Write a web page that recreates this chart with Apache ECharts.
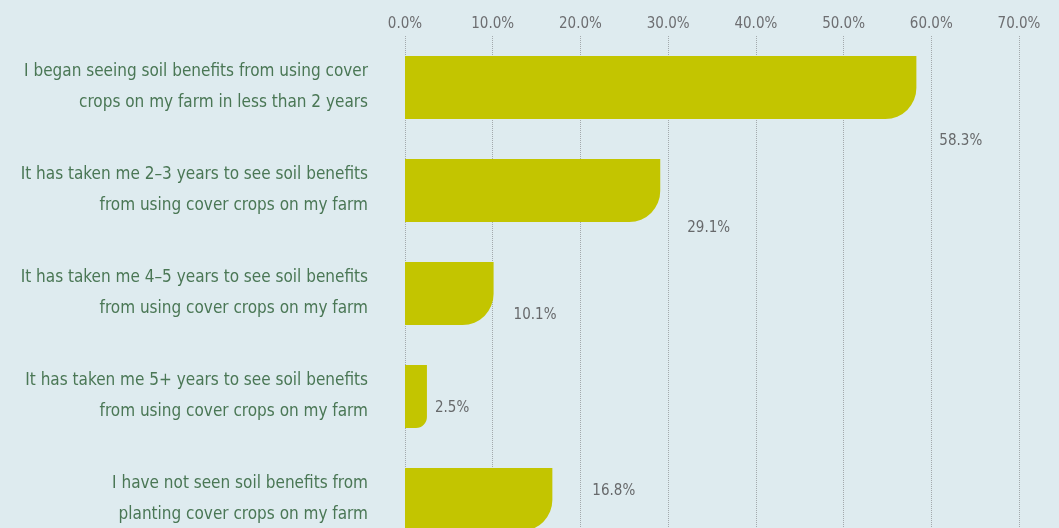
<!DOCTYPE html>
<html>
<head>
<meta charset="utf-8">
<script src="https://cdn.jsdelivr.net/npm/echarts@6/dist/echarts.min.js"></script>
<style>
    html, body { margin: 0; padding: 0; background: #deebef; }
    #cover-crops { width: 1059px; height: 528px; }
</style>
</head>
<body>
<div id="cover-crops"></div>
<script>
// categories, top to bottom
var categories = [
    'I began seeing soil benefits from using cover\ncrops on my farm in less than 2 years',
    'It has taken me 2–3 years to see soil benefits\nfrom using cover crops on my farm',
    'It has taken me 4–5 years to see soil benefits\nfrom using cover crops on my farm',
    'It has taken me 5+ years to see soil benefits\nfrom using cover crops on my farm',
    'I have not seen soil benefits from\nplanting cover crops on my farm'
];
var shares = [58.3, 29.1, 10.1, 2.5, 16.8];
var axisMax = 70;
var axisStep = 10;

var FONT = "'Liberation Sans Narrow', 'DejaVu Sans Condensed', sans-serif";
// where each value label sits relative to the bar end [dx, dy]
var labelShift = [[23, 54], [27, 38], [20, 22], [8, 12], [40, -8]];

var chart = echarts.init(document.getElementById('cover-crops'));
var pxPerUnit = (1059 - 405 - 40) / axisMax;

var option = {
    backgroundColor: '#deebef',
    animation: false,
    grid: {
        left: 405,
        right: 40,
        top: 36,
        bottom: -23,
        containLabel: false,
        outerBoundsMode: 'none'
    },
    xAxis: {
        type: 'value',
        position: 'top',
        min: 0,
        max: axisMax,
        interval: axisStep,
        axisLine: { show: false },
        axisTick: { show: false },
        axisLabel: {
            margin: 4,
            color: '#6d6e71',
            fontFamily: FONT,
            fontSize: 15,
            formatter: function (v) { return v.toFixed(1) + '%'; }
        },
        splitLine: {
            show: true,
            lineStyle: { color: '#a3a9ac', type: [1, 1], width: 1 }
        }
    },
    yAxis: {
        type: 'category',
        inverse: true,
        data: categories,
        axisLine: { show: false },
        axisTick: { show: false },
        axisLabel: {
            margin: 37,
            color: '#4a7755',
            fontFamily: FONT,
            fontSize: 17,
            lineHeight: 31,
            padding: [6, 0, 0, 0],
            align: 'right'
        }
    },
    series: [
        {
            type: 'bar',
            barWidth: 63,
            data: shares.map(function (v, i) {
                var r = Math.min(31, v * pxPerUnit / 2);
                return {
                    value: v,
                    itemStyle: { borderRadius: [0, 0, r, 0] },
                    label: { offset: labelShift[i] }
                };
            }),
            itemStyle: { color: '#c3c500' },
            label: {
                show: true,
                position: 'right',
                distance: 0,
                color: '#67696b',
                fontFamily: FONT,
                fontSize: 15,
                formatter: function (p) { return p.value.toFixed(1) + '%'; }
            }
        }
    ]
};

chart.setOption(option);
window.addEventListener('resize', function () {
    chart.resize();
});
</script>
</body>
</html>
